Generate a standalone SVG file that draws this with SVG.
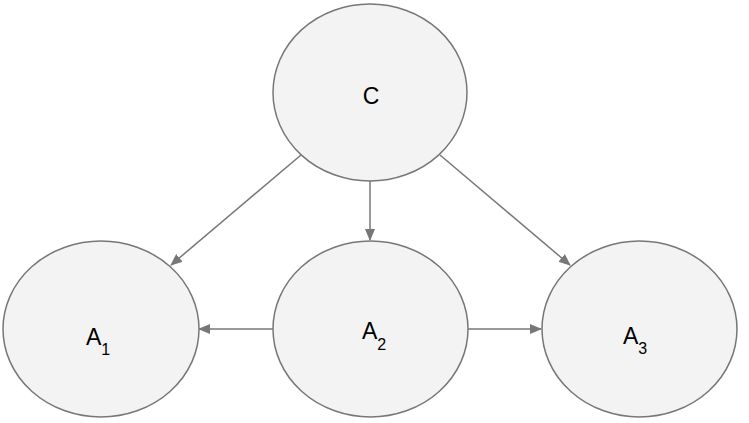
<svg xmlns="http://www.w3.org/2000/svg" width="749" height="423" viewBox="0 0 749 423">
<defs>
<style>
.node{fill:#f3f3f3;stroke:#777;stroke-width:1.5}
.lbl{font-family:"Liberation Sans",Arial,sans-serif;font-size:23px;fill:#000}
.sub{font-size:16px}
.edge{stroke:#777;stroke-width:1.5;fill:none;marker-end:url(#ah)}
</style>
<marker id="ah" markerUnits="userSpaceOnUse" markerWidth="12" markerHeight="12" viewBox="0 0 12 12" refX="11" refY="6" orient="auto">
<path d="M0,1 L12,6 L0,11 Z" fill="#777"/>
</marker>
</defs>
<rect width="749" height="423" fill="#fff"/>
<g id="connectors">
<line class="edge" x1="301" y1="155" x2="171" y2="265"/>
<line class="edge" x1="370" y1="181" x2="370" y2="240"/>
<line class="edge" x1="440" y1="155" x2="570" y2="265"/>
<line class="edge" x1="273" y1="329" x2="199" y2="329"/>
<line class="edge" x1="468" y1="329" x2="541" y2="329"/>
</g>
<g id="C">
<ellipse class="node" cx="370" cy="92.5" rx="97" ry="88.5"/>
<text class="lbl" x="371" y="104" text-anchor="middle">C</text>
</g>
<g id="A1">
<ellipse class="node" cx="101" cy="329" rx="98" ry="88"/>
<text class="lbl" x="86" y="345">A<tspan class="sub" dy="10">1</tspan></text>
</g>
<g id="A2">
<ellipse class="node" cx="370.5" cy="329" rx="97.5" ry="88"/>
<text class="lbl" x="362" y="339">A<tspan class="sub" dy="11">2</tspan></text>
</g>
<g id="A3">
<ellipse class="node" cx="639.5" cy="329" rx="97.5" ry="88"/>
<text class="lbl" x="623" y="344">A<tspan class="sub" dy="10">3</tspan></text>
</g>
</svg>
